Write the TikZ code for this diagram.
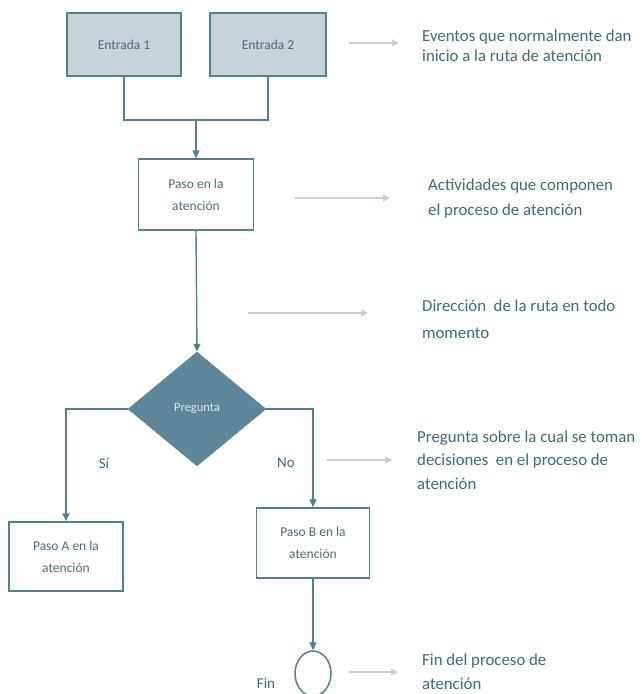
\documentclass[tikz,border=0pt]{standalone}
\usepackage{fontspec}
\setmainfont{Carlito}
\usetikzlibrary{shapes.geometric,arrows.meta}
\definecolor{linec}{HTML}{4E8192}
\definecolor{boxtext}{HTML}{4A6C79}
\definecolor{entfill}{HTML}{C8D2D9}
\definecolor{diafill}{HTML}{5D8797}
\definecolor{diatext}{HTML}{DDE5E8}
\definecolor{grayarr}{HTML}{C5D1D8}
\definecolor{desctext}{HTML}{3A6C7E}
\tikzset{
  boxnode/.style={draw=linec, line width=1.5pt, rectangle, inner sep=0pt, align=center,
    text=boxtext, font=\fontsize{13.5}{22}\selectfont},
  entbox/.style={boxnode, fill=entfill, minimum width=114pt, minimum height=63pt},
  stepbox/.style={boxnode, fill=white},
  conn/.style={draw=linec, line width=1.4pt, -{Triangle[length=8pt,width=7pt]}},
  plain/.style={draw=linec, line width=1.4pt},
  hint/.style={draw=grayarr, line width=1.5pt, -{Triangle[length=7pt,width=7pt]}},
  desc/.style={anchor=west, inner sep=0pt, align=left, text=desctext},
  lab/.style={inner sep=0pt, text=desctext, font=\fontsize{15}{18}\selectfont}
}
\begin{document}
\begin{tikzpicture}[x=1pt,y=-1pt]
\useasboundingbox (0,0) rectangle (641,694);
% nodes
\node[entbox] (e1) at (124,44.5) {Entrada 1};
\node[entbox, minimum width=116pt] (e2) at (268,44.5) {Entrada 2};
\coordinate (j) at (196,120);
\node[stepbox, minimum width=115pt, minimum height=71pt] (paso) at (196,194.5) {Paso en la\\atención};
\node[diamond, fill=diafill, draw=diafill, inner sep=0pt, minimum width=138pt, minimum height=114pt,
  text=diatext, font=\fontsize{12.5}{15}\selectfont] (dia) at (197,409) {Pregunta};
\node[stepbox, minimum width=114pt, minimum height=69pt] (pa) at (66,556.5) {Paso A en la\\atención};
\node[stepbox, minimum width=113pt, minimum height=70pt] (pb) at (313,543) {Paso B en la\\atención};
\node[ellipse, draw=linec, line width=1.5pt, fill=white, minimum width=36pt, minimum height=45pt, inner sep=0pt] (fin) at (313,673.5) {};
\node[lab] (si) at (104,463) {Sí};
\node[lab] (no) at (286,463) {No};
\node[lab] (finl) at (266,683) {Fin};
% connectors
\draw[plain] (e1.south) -- (e1.south |- j) -- (e2.south |- j) -- (e2.south);
\draw[conn] (j) -- (paso.north);
\draw[conn] (paso.south) -- (dia.north);
\draw[conn] (dia.west) -| (pa.north);
\draw[conn] (dia.east) -| (pb.north);
\draw[conn] (pb.south) -- (fin.north);
% hint arrows
\coordinate (h1a) at (349,43); \coordinate (h1b) at (399,43);
\coordinate (h2a) at (295,198); \coordinate (h2b) at (390,198);
\coordinate (h3a) at (248,313); \coordinate (h3b) at (368,313);
\coordinate (h4a) at (327,460); \coordinate (h4b) at (392,460);
\coordinate (h5a) at (349,672); \coordinate (h5b) at (398,672);
\draw[hint] (h1a) -- (h1b);
\draw[hint] (h2a) -- (h2b);
\draw[hint] (h3a) -- (h3b);
\draw[hint] (h4a) -- (h4b);
\draw[hint] (h5a) -- (h5b);
% descriptions
\node[desc, font=\fontsize{16.8}{20}\selectfont] (d1) at (422,46) {Eventos que normalmente dan\\inicio a la ruta de atención};
\node[desc, font=\fontsize{16.8}{25}\selectfont] (d2) at (428,199) {Actividades que componen\\el proceso de atención};
\node[desc, font=\fontsize{16.8}{27}\selectfont] (d3) at (422,319) {Dirección \ de la ruta en todo\\momento};
\node[desc, font=\fontsize{16.8}{23.5}\selectfont] (d4) at (417,460) {Pregunta sobre la cual se toman\\decisiones \ en el proceso de\\atención};
\node[desc, font=\fontsize{16.8}{24}\selectfont] (d5) at (422,672) {Fin del proceso de\\atención};
\end{tikzpicture}
\end{document}
